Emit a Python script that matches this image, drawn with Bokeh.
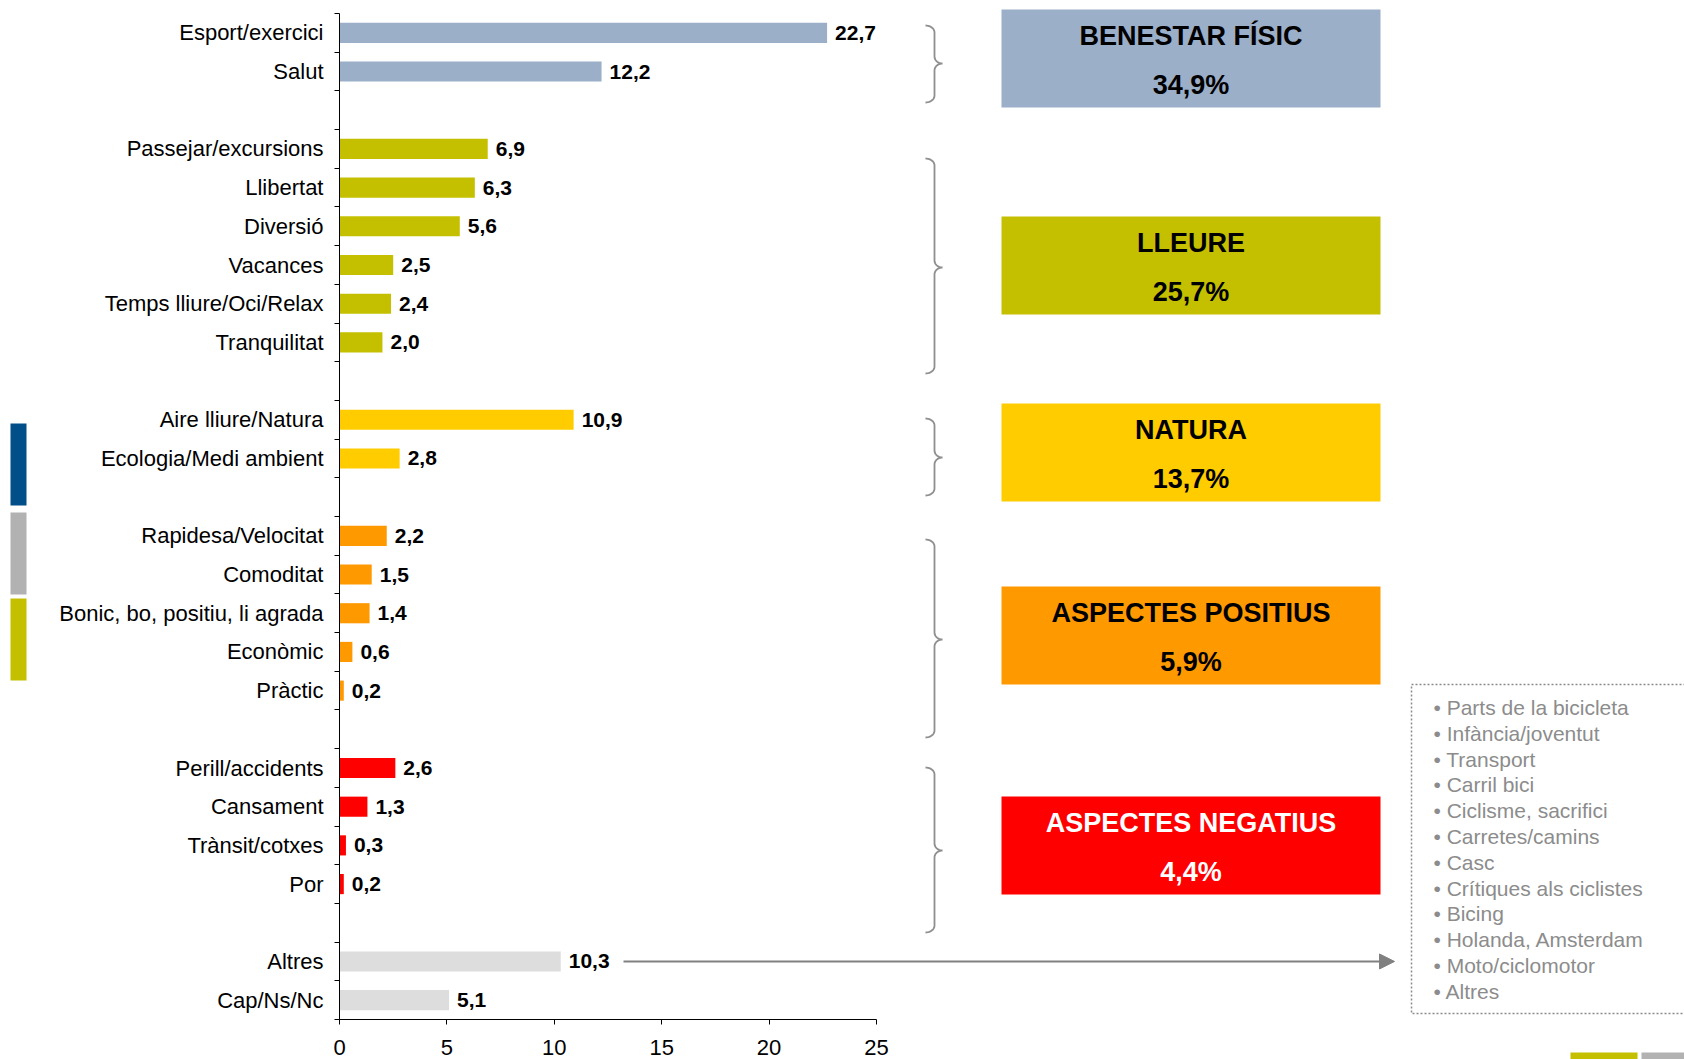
import numpy as np
from bokeh.plotting import figure
from bokeh.models import ColumnDataSource, Range1d, FixedTicker, Arrow, NormalHead
from bokeh.core.properties import value
from bokeh.embed import file_html
from bokeh.resources import INLINE

# ---------------- data ----------------
categories = ["Esport/exercici", "Salut",
              "Passejar/excursions", "Llibertat", "Diversió", "Vacances",
              "Temps lliure/Oci/Relax", "Tranquilitat",
              "Aire lliure/Natura", "Ecologia/Medi ambient",
              "Rapidesa/Velocitat", "Comoditat", "Bonic, bo, positiu, li agrada",
              "Econòmic", "Pràctic",
              "Perill/accidents", "Cansament", "Trànsit/cotxes", "Por",
              "Altres", "Cap/Ns/Nc"]
values = [22.7, 12.2,
          6.9, 6.3, 5.6, 2.5, 2.4, 2.0,
          10.9, 2.8,
          2.2, 1.5, 1.4, 0.6, 0.2,
          2.6, 1.3, 0.3, 0.2,
          10.3, 5.1]
groups = [0, 0, 1, 1, 1, 1, 1, 1, 2, 2, 3, 3, 3, 3, 3, 4, 4, 4, 4, 5, 5]
group_names = ["BENESTAR FÍSIC", "LLEURE", "NATURA", "ASPECTES POSITIUS", "ASPECTES NEGATIUS"]
group_totals = ["34,9%", "25,7%", "13,7%", "5,9%", "4,4%"]
other_items = ["Parts de la bicicleta", "Infància/joventut", "Transport", "Carril bici",
               "Ciclisme, sacrifici", "Carretes/camins", "Casc", "Crítiques als ciclistes",
               "Bicing", "Holanda, Amsterdam", "Moto/ciclomotor", "Altres"]
x_ticks = [0, 5, 10, 15, 20, 25]

# ---------------- style ----------------
group_colors = ["#9BAFC9", "#C4C000", "#FFCC00", "#FF9900", "#FF0000", "#DDDDDD"]
group_text_colors = ["black", "black", "black", "black", "white"]
FONT = "Liberation Sans"
GRAY = "#8C8C8C"

W, H = 1684, 1059
PX_X = 537 / 25.0      # pixels per unit on x
X0 = 339               # canvas x of value 0
Y0 = 13                # canvas y of top of the category axis
Y1 = 1019              # canvas y of the value axis
N_SLOTS_TOTAL = 26
SLOT_F = (Y1 - Y0) / N_SLOTS_TOTAL


def ux(px):
    return (px - X0) / PX_X


def uy(py):
    return -0.5 + (py - Y0) / SLOT_F


# slot positions with a gap between groups
slots = []
s = 0
prev = groups[0]
for g in groups:
    if g != prev:
        s += 1
        prev = g
    slots.append(s)
    s += 1
n_slots = s

p = figure(width=W, height=H, output_backend="svg", toolbar_location=None,
           x_range=Range1d(ux(0), ux(W)), y_range=Range1d(uy(H), uy(0)),
           min_border=0, min_border_left=0, min_border_right=0,
           min_border_top=0, min_border_bottom=0)
p.outline_line_color = None
p.grid.visible = False
p.background_fill_color = "white"
p.border_fill_color = "white"

src = ColumnDataSource(dict(
    slot=slots, value=values, cat=categories,
    color=[group_colors[g] for g in groups],
    label=[f"{v:.1f}".replace(".", ",") for v in values],
))
p.hbar(y="slot", left=0, right="value", height=0.52, fill_color="color",
       line_color=None, source=src)
p.text(x="value", y="slot", text="label", source=src, x_offset=8,
       text_align="left", text_baseline="middle", text_font=value(FONT),
       text_font_style="bold", text_font_size=value("21px"), text_color="black")

# y axis (category labels, boundary ticks)
yax = p.yaxis[0]
yax.fixed_location = 0
yax.ticker = FixedTicker(ticks=slots, minor_ticks=[b - 0.5 for b in range(n_slots + 1)])
yax.major_label_overrides = {sl: c for sl, c in zip(slots, categories)}
yax.major_tick_out = 0
yax.major_tick_in = 0
yax.minor_tick_out = 5
yax.minor_tick_in = 0
yax.minor_tick_line_color = "black"
yax.major_label_standoff = 11
yax.bounds = (-0.5, n_slots - 0.5)
yax.axis_line_color = "black"
yax.major_label_text_font = FONT
yax.major_label_text_font_size = "22px"
yax.major_label_text_color = "black"

# x axis
xax = p.xaxis[0]
xax.fixed_location = n_slots - 0.5
xax.ticker = FixedTicker(ticks=x_ticks)
xax.bounds = (x_ticks[0], x_ticks[-1])
xax.major_tick_out = 5
xax.major_tick_in = 0
xax.minor_tick_out = 0
xax.minor_tick_in = 0
xax.major_tick_line_color = "black"
xax.axis_line_color = "black"
xax.major_label_standoff = 15
xax.major_label_text_font = FONT
xax.major_label_text_font_size = "22px"
xax.major_label_text_color = "black"

# group boxes
box_tops = [9, 216, 403, 586, 796]
BOX_H = 98
bl, br = ux(1001), ux(1380)
bsrc = ColumnDataSource(dict(
    left=[bl] * 5, right=[br] * 5,
    top=[uy(t) for t in box_tops], bottom=[uy(t + BOX_H) for t in box_tops],
    color=group_colors[:5], tcolor=group_text_colors,
    name=group_names, total=group_totals,
    xc=[(bl + br) / 2] * 5,
    yt=[uy(t + 26) for t in box_tops], yv=[uy(t + 75) for t in box_tops],
))
p.quad(left="left", right="right", top="top", bottom="bottom", fill_color="color",
       line_color=None, source=bsrc)
p.text(x="xc", y="yt", text="name", text_color="tcolor", source=bsrc,
       text_align="center", text_baseline="middle", text_font=value(FONT),
       text_font_style="bold", text_font_size=value("27px"))
p.text(x="xc", y="yv", text="total", text_color="tcolor", source=bsrc,
       text_align="center", text_baseline="middle", text_font=value(FONT),
       text_font_style="bold", text_font_size=value("27px"))


# braces
def brace(top, mid, bot, xl=925, xs=934, xt=942, r=7):
    t = np.linspace(0, np.pi / 2, 12)
    xs_, ys_ = [], []
    xs_ += list(xl + (xs - xl) * np.sin(t)); ys_ += list(top + r * (1 - np.cos(t)))
    xs_ += list(xs + (xt - xs) * (1 - np.cos(t))); ys_ += list(mid - r + r * np.sin(t))
    xs_ += list(xt - (xt - xs) * np.sin(t)); ys_ += list(mid + r * (1 - np.cos(t)))
    xs_ += list(xs - (xs - xl) * (1 - np.cos(t))); ys_ += list(bot - r + r * np.sin(t))
    return [ux(v) for v in xs_], [uy(v) for v in ys_]


brace_specs = [(25, 63, 102), (158, 267, 373), (418, 457, 495), (539, 639, 737), (767, 850, 932)]
bx, by = [], []
for tp, md, bt in brace_specs:
    a, b = brace(tp, md, bt)
    bx.append(a); by.append(b)
p.multi_line(xs=bx, ys=by, line_color="#8F8F8F", line_width=1.8)

# arrow from "Altres" to the list
y_altres = slots[categories.index("Altres")]
p.add_layout(Arrow(end=NormalHead(size=15, fill_color="#808080", line_color="#808080"),
                   x_start=ux(623), y_start=y_altres, x_end=ux(1394), y_end=y_altres,
                   line_color="#808080", line_width=2))

# dotted box with list
p.quad(left=[ux(1411)], right=[ux(1720)], top=[uy(684)], bottom=[uy(1013)],
       fill_color=None, line_color=GRAY, line_dash="2 2", line_width=1.5)
lsrc = ColumnDataSource(dict(
    x=[ux(1433)] * len(other_items),
    y=[uy(707 + 25.8 * i) for i in range(len(other_items))],
    t=["• " + it for it in other_items],
))
p.text(x="x", y="y", text="t", source=lsrc, text_align="left", text_baseline="middle",
       text_font=value(FONT), text_font_size=value("21px"), text_color=GRAY)

# page decorations
p.quad(left=[ux(10)] * 3, right=[ux(26)] * 3,
       top=[uy(423), uy(512), uy(598)], bottom=[uy(505), uy(594), uy(680)],
       fill_color=["#004F88", "#B2B2B2", "#C4C000"], line_color=None)
p.quad(left=[ux(1570), ux(1641)], right=[ux(1637), ux(1720)],
       top=[uy(1052), uy(1052)], bottom=[uy(1080), uy(1080)],
       fill_color=["#C4C000", "#B2B2B2"], line_color=None)

open("out.html", "w").write(file_html(p, INLINE))
